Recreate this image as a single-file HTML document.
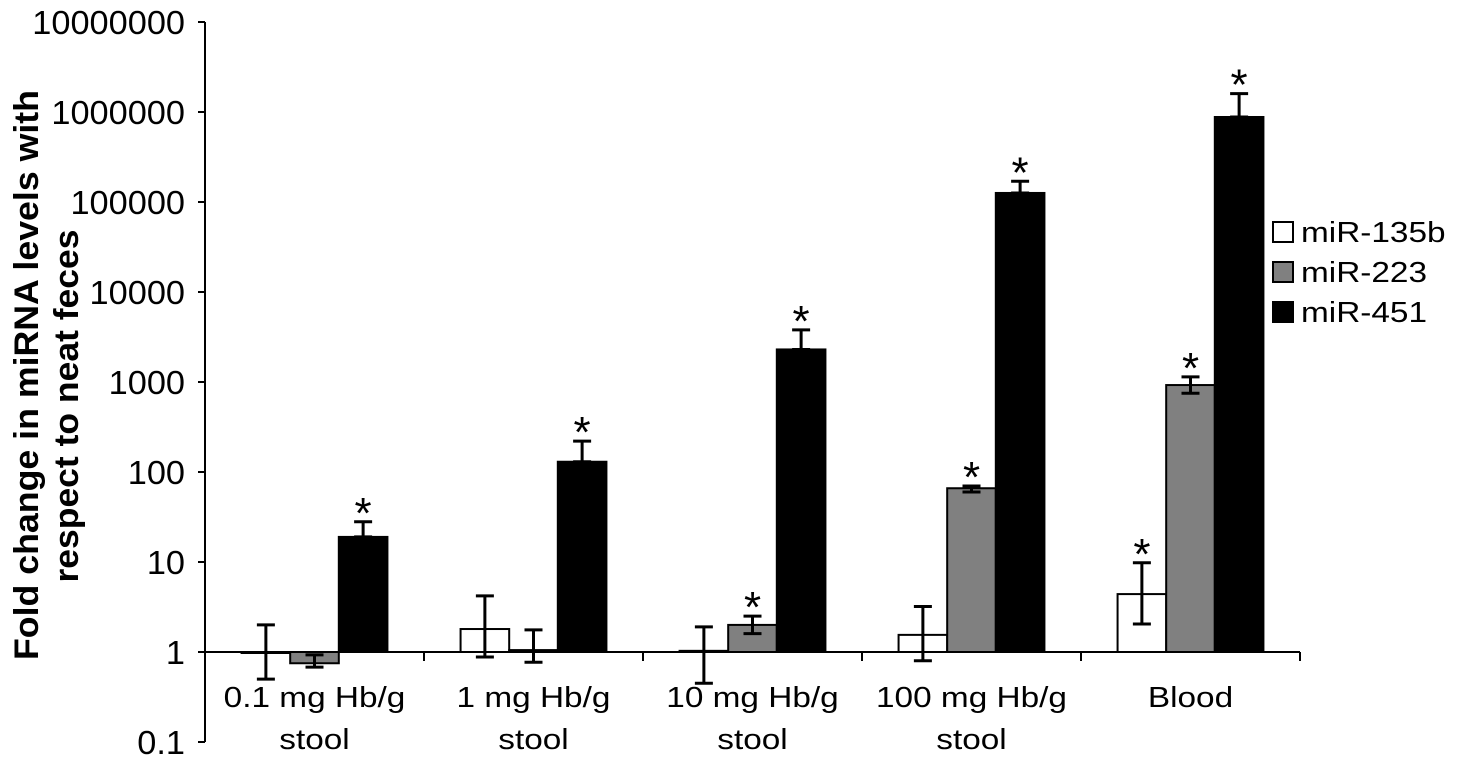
<!DOCTYPE html>
<html><head><meta charset="utf-8"><style>
body{margin:0;background:#fff}
svg text{font-family:"Liberation Sans",Arial,sans-serif;fill:#000}
</style></head><body>
<svg id="c" width="1457" height="770"></svg>
<script>
const categories=[["0.1 mg Hb/g","stool"],["1 mg Hb/g","stool"],["10 mg Hb/g","stool"],["100 mg Hb/g","stool"],["Blood",""]];
const seriesNames=["miR-135b","miR-223","miR-451"];
const seriesFill=["#ffffff","#808080","#000000"];
const v135b=[1.0,1.8,1.03,1.55,4.4];
const v223=[0.75,1.05,2.0,66,925];
const v451=[19,130,2300,126000,880000];
const hi135b=[2.0,4.2,1.9,3.2,9.8];
const lo135b=[0.5,0.88,0.45,0.8,2.05];
const hi223=[0.93,1.76,2.5,70,1140];
const lo223=[0.68,0.77,1.6,60,750];
const hi451=[28,220,3800,170000,1600000];
const lo451=[19,130,2300,126000,880000];
const sig135b=[0,0,0,0,1];
const sig223=[0,0,1,1,1];
const sig451=[1,1,1,1,1];
const yTicks=[0.1,1,10,100,1000,10000,100000,1000000,10000000];
const yTickLabels=["0.1","1","10","100","1000","10000","100000","1000000","10000000"];

const NS="http://www.w3.org/2000/svg",svg=document.getElementById('c');
const X0=205,X1=1300,Y1=652,PD=90;
const y=v=>Y1-Math.log10(v)*PD;
const gw=(X1-X0)/categories.length,bw=gw*0.222;
const bx=(g,s)=>X0+gw*g+gw/2+(s-1.5)*bw;
function el(t,a,txt,parent){const e=document.createElementNS(NS,t);for(const k in a)e.setAttribute(k,a[k]);if(txt!==undefined)e.textContent=txt;(parent||svg).appendChild(e);return e;}
function stretch(e,f){const w=e.getComputedTextLength();e.setAttribute('textLength',w*f);e.setAttribute('lengthAdjust','spacingAndGlyphs');}
const vals=[v135b,v223,v451],his=[hi135b,hi223,hi451],los=[lo135b,lo223,lo451],sigs=[sig135b,sig223,sig451];
let ax=el('line',{x1:X0,y1:y(1e7),x2:X0,y2:y(0.1),stroke:'#000','stroke-width':2});


yTicks.forEach((t,i)=>{
 let l=el('line',{x1:X0-7,y1:y(t),x2:X0,y2:y(t),stroke:'#000','stroke-width':2});
 
 
 let tx=el('text',{x:X0-20,y:y(t)+12,'text-anchor':'end','font-size':33},yTickLabels[i]);
 
 
 stretch(tx,1.04);
});
for(let s=0;s<3;s++)for(let g=0;g<categories.length;g++){
 const v=vals[s][g],x=bx(g,s),top=Math.min(y(v),Y1),h=Math.abs(y(v)-Y1);
 let r=el('rect',{x:x,y:top,width:bw,height:Math.max(h,1),fill:seriesFill[s],stroke:'#000','stroke-width':2});
 
 
 const cx=x+bw/2,yh=y(his[s][g]),yl=y(los[s][g]);
 let e=el('path',{d:`M${cx},${yh}V${yl}M${cx-9},${yh}H${cx+9}M${cx-9},${yl}H${cx+9}`,stroke:'#000','stroke-width':3,fill:'none'});
 
 
 if(sigs[s][g]){let st=el('text',{x:cx,y:Math.min(yh,top)+6,'text-anchor':'middle','font-size':44},'*');
 
 }
}
let xa=el('line',{x1:X0,y1:Y1,x2:X1,y2:Y1,stroke:'#000','stroke-width':2});


for(let g=0;g<=categories.length;g++){
 let l=el('line',{x1:X0+gw*g,y1:Y1,x2:X0+gw*g,y2:Y1+9,stroke:'#000','stroke-width':2});
 
 
}
categories.forEach((c,g)=>{
 const cx=X0+gw*g+gw/2;
 c.forEach((line,i)=>{if(!line)return;
  let t=el('text',{x:cx,y:707+i*42,'text-anchor':'middle','font-size':29},line);
  
  
  stretch(t,1.15);});
});
let yt1=el('text',{transform:'translate(38,375) rotate(-90)','text-anchor':'middle','font-size':34,'font-weight':'bold',textLength:570,lengthAdjust:'spacingAndGlyphs'},'Fold change in miRNA levels with');


let yt2=el('text',{transform:'translate(78,406) rotate(-90)','text-anchor':'middle','font-size':34,'font-weight':'bold',textLength:353,lengthAdjust:'spacingAndGlyphs'},'respect to neat feces');


seriesNames.forEach((n,i)=>{
 let r=el('rect',{x:1273,y:222+i*40,width:20,height:20,fill:seriesFill[i],stroke:'#000','stroke-width':2});
 
 
 let t=el('text',{x:1301,y:242+i*40,'font-size':29},n);
 
 
 stretch(t,1.15);
});
</script>
</body></html>
